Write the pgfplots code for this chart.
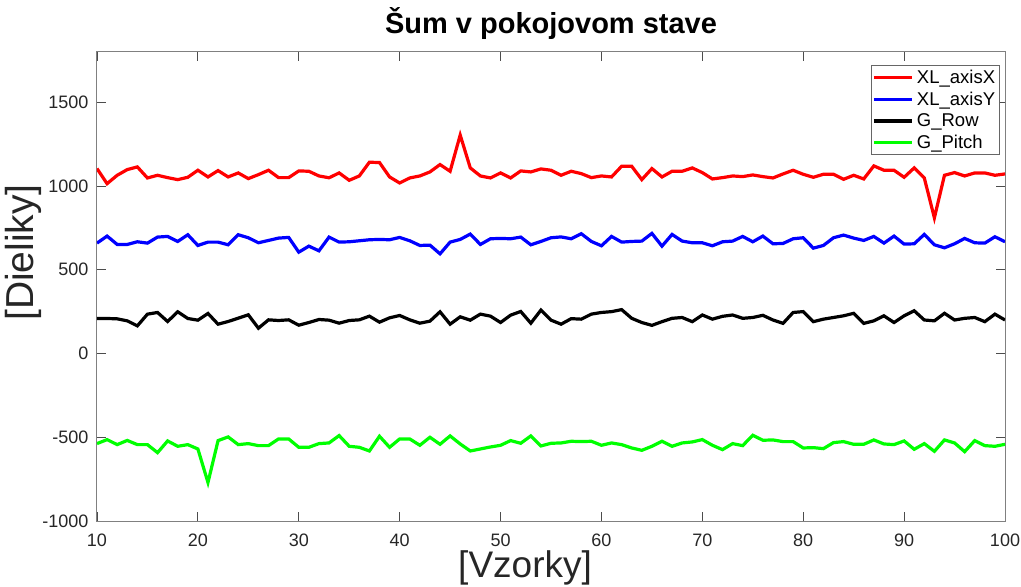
\documentclass[border=0pt]{standalone}
\usepackage{fontspec}
\setmainfont{Liberation Sans}
\usepackage{pgfplots}
\usepackage{pgfplotstable}
\pgfplotsset{compat=1.18}

% samples 10..100, four sensor channels
\pgfplotstableread{
n red blue black green
10 1104 659 209 -538
11 1014 701 209 -514
12 1064 651 207 -544
13 1098 651 195 -519
14 1114 667 165 -544
15 1048 659 235 -544
16 1064 695 245 -592
17 1050 699 191 -522
18 1038 669 249 -554
19 1052 709 209 -544
20 1094 645 199 -570
21 1054 665 239 -770
22 1092 665 175 -520
23 1054 649 191 -498
24 1078 709 211 -544
25 1044 691 231 -538
26 1068 661 151 -550
27 1094 675 201 -550
28 1050 689 197 -510
29 1050 693 201 -510
30 1090 605 169 -560
31 1088 641 185 -560
32 1060 613 203 -538
33 1049 695 199 -534
34 1078 665 181 -490
35 1034 667 197 -554
36 1060 673 201 -560
37 1142 679 223 -582
38 1140 681 187 -494
39 1054 679 213 -560
40 1018 693 227 -510
41 1048 673 201 -510
42 1060 645 181 -548
43 1084 647 193 -500
44 1128 595 249 -542
45 1088 665 175 -492
46 1304 681 219 -540
47 1108 713 199 -582
48 1060 651 235 -570
49 1048 685 223 -558
50 1078 687 185 -548
51 1048 685 229 -520
52 1090 695 251 -536
53 1084 649 181 -492
54 1102 669 259 -552
55 1094 691 199 -536
56 1064 696 175 -534
57 1088 685 208 -524
58 1074 715 205 -526
59 1050 669 235 -524
60 1060 643 245 -548
61 1054 699 250 -534
62 1118 665 262 -544
63 1118 669 210 -564
64 1038 671 185 -578
65 1104 717 168 -554
66 1054 641 190 -524
67 1088 711 210 -554
68 1088 671 215 -534
69 1108 661 190 -528
70 1080 661 230 -514
71 1042 643 205 -548
72 1050 667 222 -574
73 1060 671 230 -538
74 1056 699 210 -550
75 1066 667 215 -488
76 1056 701 228 -518
77 1048 655 200 -516
78 1072 657 180 -526
79 1094 685 245 -526
80 1070 691 250 -564
81 1052 629 190 -562
82 1070 645 205 -568
83 1070 691 215 -532
84 1040 707 225 -526
85 1064 689 240 -542
86 1042 675 180 -542
87 1120 699 195 -516
88 1094 659 225 -540
89 1094 701 185 -544
90 1052 653 225 -522
91 1108 655 255 -572
92 1048 711 200 -538
93 810 649 195 -584
94 1064 631 240 -516
95 1080 655 200 -534
96 1060 687 210 -586
97 1078 661 215 -520
98 1078 659 190 -550
99 1064 697 235 -554
100 1072 667 200 -542
}\noise

\begin{document}
\begin{tikzpicture}
\begin{axis}[
    scale only axis,
    width=908pt, height=469pt,
    xmin=10, xmax=100,
    ymin=-1000, ymax=1800,
    xtick={10,20,...,100},
    ytick={-1000,-500,0,500,1000,1500},
    tick align=inside,
    major tick length=9pt,
    axis line style={black!50, line width=1pt},
    tick style={black!70, line width=0.8pt},
    /pgf/number format/assume math mode=true,
    /pgf/number format/1000 sep={},
    ticklabel style={font=\fontsize{18}{20}\selectfont, text=black!85},
    xticklabel style={anchor=base, yshift=-25pt},
    yticklabel style={anchor=east, xshift=-5pt},
    title={Šum v pokojovom stave},
    title style={font=\bfseries\fontsize{29}{34}\selectfont, at={(axis description cs:0.5,1)}, anchor=base, yshift=12pt},
    xlabel={[Vzorky]},
    xlabel style={font=\fontsize{37}{42}\selectfont, text=black!85, at={(axis description cs:0.4714,-0.1194)}, anchor=base},
    ylabel={[Dieliky]},
    ylabel style={font=\fontsize{39}{44}\selectfont, text=black!85, at={(axis description cs:-0.0694,0.5725)}, anchor=base},
    legend cell align=left,
    legend image code/.code={\draw[#1] (0pt,0pt) -- (38pt,0pt);},
    legend style={draw=black!60, line width=0.8pt, at={(0.9945,0.9723)}, anchor=north east,
        font=\fontsize{18.5}{20}\selectfont, inner xsep=1pt, inner ysep=1pt,
        nodes={inner sep=3.5pt}},
]
\addplot[red, line width=3.2pt] table[x=n, y=red] {\noise};
\addlegendentry{XL\_axisX}
\addplot[blue, line width=3.2pt] table[x=n, y=blue] {\noise};
\addlegendentry{XL\_axisY}
\addplot[black, line width=3.2pt] table[x=n, y=black] {\noise};
\addlegendentry{G\_Row}
\addplot[green, line width=3.2pt] table[x=n, y=green] {\noise};
\addlegendentry{G\_Pitch}
\coordinate (bl) at (rel axis cs:0,0);
\coordinate (tr) at (rel axis cs:1,1);
\end{axis}
\pgfresetboundingbox
\path ([shift={(-97pt,-65pt)}]bl) rectangle ([shift={(16pt,52pt)}]tr);
\end{tikzpicture}
\end{document}
